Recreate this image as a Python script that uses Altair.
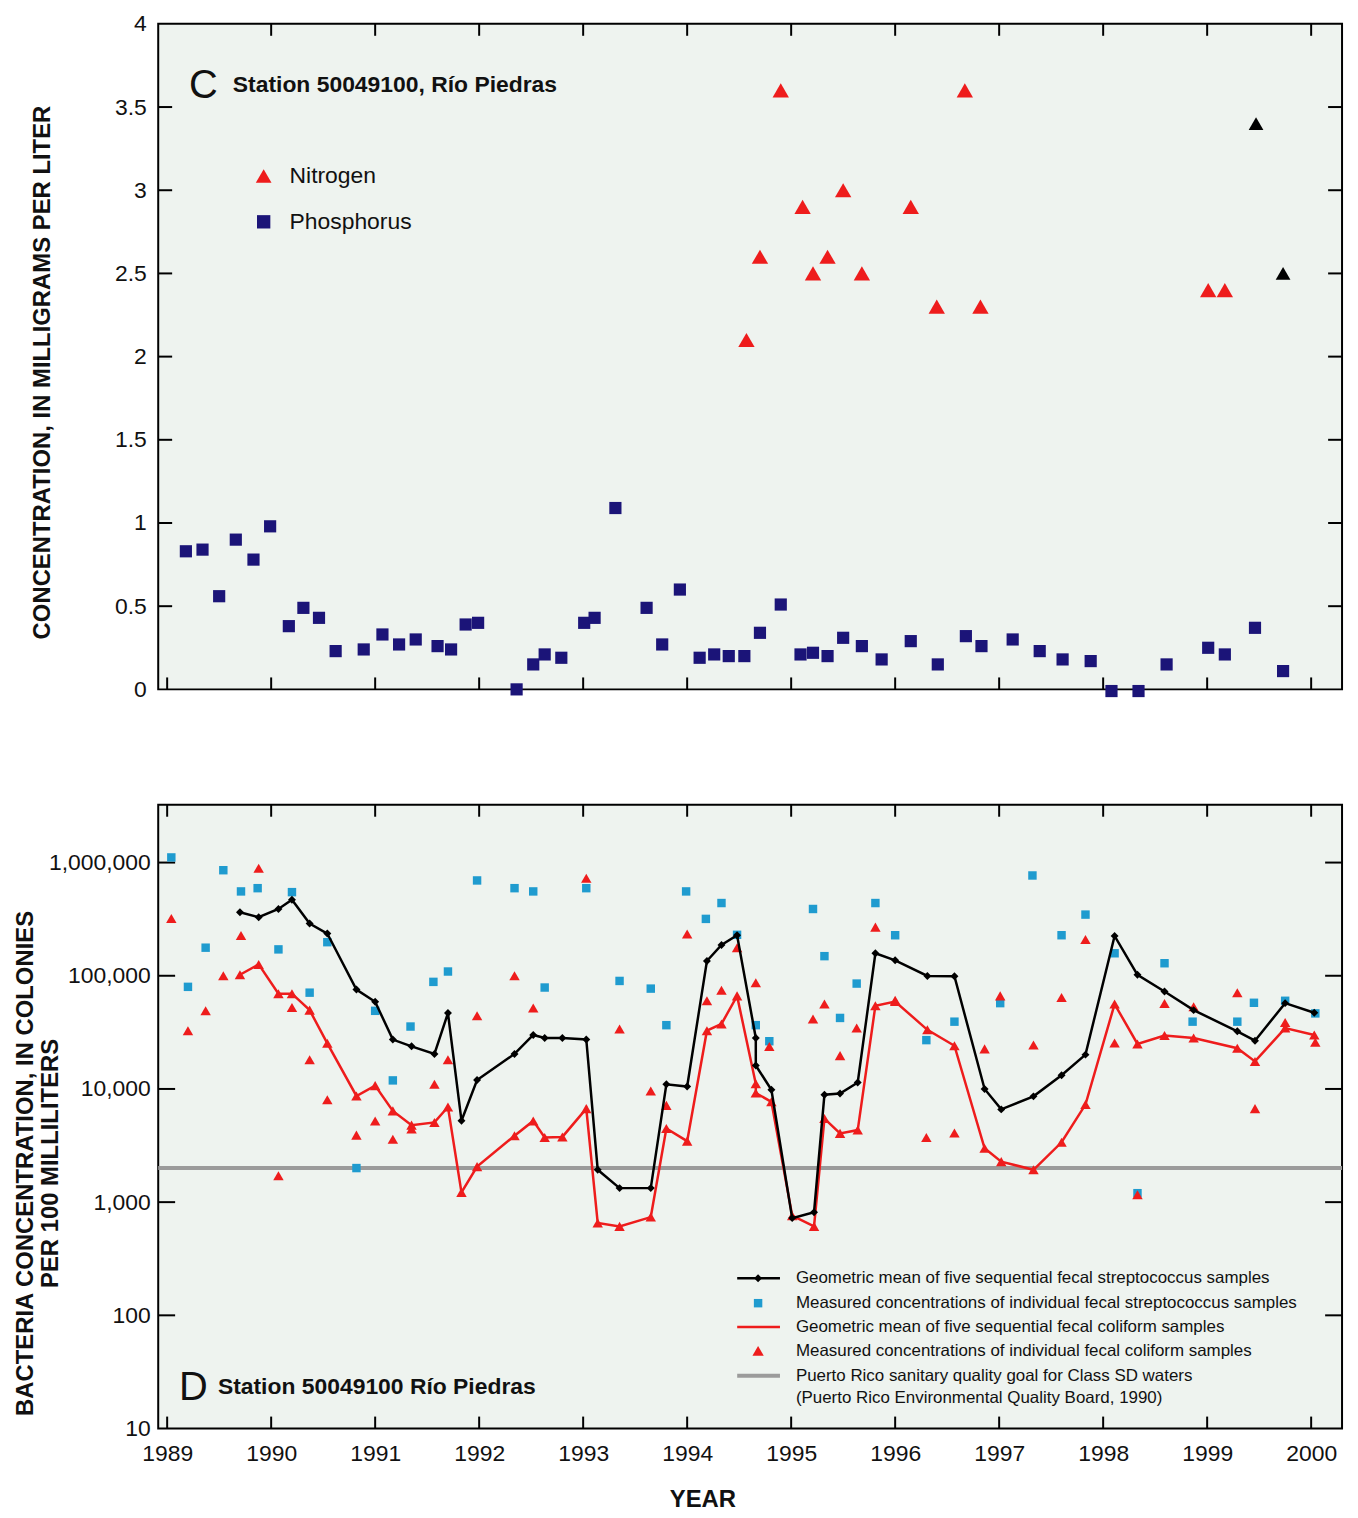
import altair as alt
import pandas as pd

# ---------------- Panel C: nutrients (mg/L) ----------------
P_YEAR = [1989.18, 1989.34, 1989.50, 1989.66, 1989.83, 1989.99, 1990.17, 1990.31, 1990.46, 1990.62,
          1990.89, 1991.07, 1991.23, 1991.39, 1991.60, 1991.73, 1991.87, 1991.99, 1992.36, 1992.52,
          1992.63, 1992.79, 1993.01, 1993.11, 1993.31, 1993.61, 1993.76, 1993.93, 1994.12, 1994.26,
          1994.40, 1994.55, 1994.70, 1994.90, 1995.09, 1995.21, 1995.35, 1995.50, 1995.68, 1995.87,
          1996.15, 1996.41, 1996.68, 1996.83, 1997.13, 1997.39, 1997.61, 1997.88, 1998.08, 1998.34,
          1998.61, 1999.01, 1999.17, 1999.46, 1999.73]
P_VAL = [0.83, 0.84, 0.56, 0.90, 0.78, 0.98, 0.38, 0.49, 0.43, 0.23,
         0.24, 0.33, 0.27, 0.30, 0.26, 0.24, 0.39, 0.40, 0.00, 0.15,
         0.21, 0.19, 0.40, 0.43, 1.09, 0.49, 0.27, 0.60, 0.19, 0.21,
         0.20, 0.20, 0.34, 0.51, 0.21, 0.22, 0.20, 0.31, 0.26, 0.18,
         0.29, 0.15, 0.32, 0.26, 0.30, 0.23, 0.18, 0.17, -0.01, -0.01,
         0.15, 0.25, 0.21, 0.37, 0.11]
N_YEAR = [1994.57, 1994.70, 1994.90, 1995.11, 1995.21, 1995.35, 1995.50, 1995.68, 1996.15, 1996.40,
          1996.67, 1996.82, 1999.01, 1999.17]
N_VAL = [2.1, 2.6, 3.6, 2.9, 2.5, 2.6, 3.0, 2.5, 2.9, 2.3, 3.6, 2.3, 2.4, 2.4]
NK_YEAR = [1999.47, 1999.73]
NK_VAL = [3.4, 2.5]

# ---------------- Panel D: bacteria (colonies / 100 mL) ----------------
GM_YEAR = [1989.70, 1989.88, 1990.07, 1990.20, 1990.37, 1990.54, 1990.82, 1991.00, 1991.17, 1991.35,
           1991.57, 1991.70, 1991.83, 1991.98, 1992.34, 1992.52, 1992.63, 1992.80, 1993.03, 1993.14,
           1993.35, 1993.65, 1993.80, 1994.00, 1994.19, 1994.33, 1994.48, 1994.66, 1994.66, 1994.81,
           1995.01, 1995.22, 1995.32, 1995.47, 1995.64, 1995.81, 1996.00, 1996.31, 1996.57, 1996.86,
           1997.02, 1997.33, 1997.60, 1997.83, 1998.11, 1998.33, 1998.59, 1998.87, 1999.29, 1999.46,
           1999.75, 2000.03]
STREP_GM = [364000, 329000, 389000, 470000, 289000, 236000, 75500, 58900, 27300, 23800,
            20400, 46800, 5240, 12000, 20400, 30000, 28200, 28200, 27400, 1930,
            1330, 1330, 11000, 10500, 135000, 187000, 228000, 28200, 16100, 9840,
            723, 815, 8900, 9100, 11400, 158000, 137000, 99600, 98900, 10000,
            6600, 8600, 13200, 20100, 225000, 102000, 72500, 49700, 32300, 26700,
            57300, 47100]
COLI_GM = [102000, 126000, 69500, 69500, 49700, 25300, 8670, 10700, 6400, 4790,
           5060, 6930, 1220, 2060, 3860, 5220, 3730, 3770, 6700, 655,
           611, 738, 4480, 3460, 32700, 37500, 66400, 11100, 9200, 7700,
           759, 611, 5470, 4050, 4330, 54400, 59200, 33300, 24100, 2990,
           2280, 1930, 3380, 7280, 56200, 25000, 29600, 28200, 22900, 17500,
           34500, 30000]
STREP_YEAR = [1989.04, 1989.20, 1989.37, 1989.54, 1989.71, 1989.87, 1990.07, 1990.20, 1990.37, 1990.54,
              1990.82, 1991.00, 1991.17, 1991.34, 1991.56, 1991.70, 1991.98, 1992.34, 1992.52, 1992.63,
              1993.03, 1993.35, 1993.65, 1993.80, 1993.99, 1994.18, 1994.33, 1994.48, 1994.66, 1994.79,
              1995.21, 1995.32, 1995.47, 1995.63, 1995.81, 1996.00, 1996.30, 1996.57, 1997.01, 1997.32,
              1997.60, 1997.83, 1998.11, 1998.33, 1998.59, 1998.86, 1999.29, 1999.45, 1999.75, 2000.04]
STREP_VAL = [1110000, 79800, 177000, 856000, 556000, 594000, 171000, 548000, 70900, 198000,
             2000, 49000, 11900, 35600, 88300, 109000, 695000, 594000, 556000, 78700,
             594000, 90000, 77000, 36600, 556000, 318000, 439000, 230000, 36600, 26400,
             389000, 149000, 42400, 85300, 439000, 228000, 27000, 39300, 57300, 769000,
             228000, 347000, 158000, 1200, 129000, 39300, 39300, 57700, 60100, 46500]
COLI_YEAR = [1989.04, 1989.20, 1989.37, 1989.54, 1989.71, 1989.88, 1990.07, 1990.20, 1990.37, 1990.54,
             1990.82, 1991.00, 1991.17, 1991.35, 1991.57, 1991.70, 1991.98, 1992.34, 1992.52, 1993.03,
             1993.35, 1993.65, 1993.80, 1994.00, 1994.19, 1994.33, 1994.48, 1994.66, 1994.79, 1995.21,
             1995.32, 1995.47, 1995.63, 1995.81, 1996.00, 1996.30, 1996.57, 1996.86, 1997.01, 1997.33,
             1997.60, 1997.83, 1998.11, 1998.33, 1998.59, 1998.87, 1999.29, 1999.46, 1999.75, 2000.04]
COLI_VAL = [320000, 32700, 49100, 100000, 227000, 891000, 1710, 52500, 18100, 8040,
            3910, 5220, 3590, 4420, 11000, 18100, 44300, 100000, 51800, 728000,
            33800, 9580, 7160, 234000, 60100, 74600, 177000, 86900, 23700, 41500,
            56200, 19700, 34500, 269000, 60800, 3730, 4090, 22600, 66400, 24500,
            64200, 209000, 25500, 1160, 56900, 53200, 70900, 6700, 38700, 25800]
GOAL = [2000]

YEARS = list(range(1989, 2001))
TOP_YTICKS = [0.5, 1, 1.5, 2, 2.5, 3, 3.5]
TOP_YLABELS = [0, 0.5, 1, 1.5, 2, 2.5, 3, 3.5, 4]
BOT_YTICKS = [100, 1000, 10000, 100000, 1000000]
BOT_YLABELS = [10, 100, 1000, 10000, 100000, 1000000]

# ---------------- styling ----------------
W, H1, H2 = 1190, 669, 627
BG = "#eef3ef"
RED = "#ee1c1c"
NAVY = "#1b1478"
CYAN = "#1f9bcf"
BLACK = "#000000"
GRAY = "#9b9b9b"
TXT = "#111111"
FONT = "Liberation Sans"

xs = alt.Scale(domain=[1988.914, 2000.297], nice=False, zero=False)
ys1 = alt.Scale(domain=[0, 4], nice=False, zero=False)
ys2 = alt.Scale(type="log", domain=[10, 3.24e6], nice=False)

# axes: the same explicit definition is given to every layer that uses the scale
ax1 = alt.Axis(values=TOP_YLABELS, format="~g", labelPadding=12,
               title="CONCENTRATION, IN MILLIGRAMS PER LITER",
               titleX=-116, titleY=350, titleBaseline="middle")
ax2 = alt.Axis(values=BOT_YLABELS, format=",d", labelPadding=8,
               title=["BACTERIA CONCENTRATION, IN COLONIES", "PER 100 MILLILITERS"],
               titleX=-133, titleY=360, titleBaseline="middle", titleLineHeight=25)
axx = alt.Axis(values=YEARS, format="d", labelPadding=14, title="YEAR",
               titleX=547, titleY=71, titleBaseline="middle")

one = pd.DataFrame({"k": [0]})


def X(field, axis):
    return alt.X(field, scale=xs, axis=axis)


def xticks(years, y0, y1, axis):
    return alt.Chart(pd.DataFrame({"year": years})).mark_rule(color=BLACK, strokeWidth=2).encode(
        x=X("year:Q", axis), y=alt.value(y0), y2=alt.value(y1))


def yticks(vals, scale, axis, x0, x1):
    return alt.Chart(pd.DataFrame({"v": vals})).mark_rule(color=BLACK, strokeWidth=2).encode(
        y=alt.Y("v:Q", scale=scale, axis=axis), x=alt.value(x0), x2=alt.value(x1))


def label(txt, x, y, size, weight="normal"):
    return alt.Chart(one).mark_text(align="left", baseline="middle", font=FONT, fontSize=size,
                                    fontWeight=weight, color=TXT).encode(
        x=alt.value(x), y=alt.value(y), text=alt.value(txt))


def sym(shape, color, size, x, y):
    return alt.Chart(one).mark_point(shape=shape, filled=True, size=size, color=color,
                                     opacity=1, strokeWidth=0).encode(x=alt.value(x), y=alt.value(y))


def seg(color, width, x0, x1, y):
    return alt.Chart(one).mark_rule(color=color, strokeWidth=width).encode(
        x=alt.value(x0), x2=alt.value(x1), y=alt.value(y))


# ---------------- top panel ----------------
Y1 = lambda f: alt.Y(f, scale=ys1, axis=ax1)

phos = alt.Chart(pd.DataFrame({"year": P_YEAR, "v": P_VAL})).mark_square(
    size=150, color=NAVY, opacity=1).encode(x=X("year:Q", None), y=Y1("v:Q"))
nitro = alt.Chart(pd.DataFrame({"year": N_YEAR, "v": N_VAL})).mark_point(
    shape="triangle-up", filled=True, size=270, color=RED, opacity=1).encode(x=X("year:Q", None), y=Y1("v:Q"))
nitro_k = alt.Chart(pd.DataFrame({"year": NK_YEAR, "v": NK_VAL})).mark_point(
    shape="triangle-up", filled=True, size=220, color=BLACK, opacity=1).encode(x=X("year:Q", None), y=Y1("v:Q"))

top = alt.layer(
    xticks(YEARS[1:], 0, 12, None),
    xticks(YEARS, H1, H1 - 12, None),
    yticks(TOP_YTICKS, ys1, ax1, 0, 14),
    yticks(TOP_YTICKS, ys1, ax1, W, W - 14),
    phos, nitro, nitro_k,
    label("C", 31, 63, 40),
    label("Station 50049100, Río Piedras", 75, 62, 23, "bold"),
    sym("triangle-up", RED, 250, 106, 153),
    label("Nitrogen", 132, 153, 23),
    sym("square", NAVY, 180, 106, 199),
    label("Phosphorus", 132, 199, 23),
).properties(width=W, height=H1)

# ---------------- bottom panel ----------------
Y2 = lambda f: alt.Y(f, scale=ys2, axis=ax2)
gm = pd.DataFrame({"year": GM_YEAR, "strep": STREP_GM, "coli": COLI_GM, "i": list(range(len(GM_YEAR)))})

goal = alt.Chart(pd.DataFrame({"v": GOAL})).mark_rule(color=GRAY, strokeWidth=4).encode(y=Y2("v:Q"))
strep_pts = alt.Chart(pd.DataFrame({"year": STREP_YEAR, "v": STREP_VAL})).mark_square(
    size=72, color=CYAN, opacity=1).encode(x=X("year:Q", axx), y=Y2("v:Q"))
coli_pts = alt.Chart(pd.DataFrame({"year": COLI_YEAR, "v": COLI_VAL})).mark_point(
    shape="triangle-up", filled=True, size=110, color=RED, opacity=1).encode(x=X("year:Q", axx), y=Y2("v:Q"))
coli_line = alt.Chart(gm).mark_line(color=RED, strokeWidth=2.5).encode(
    x=X("year:Q", axx), y=Y2("coli:Q"), order="i:Q")
coli_mark = alt.Chart(gm).mark_point(shape="triangle-up", filled=True, size=110, color=RED, opacity=1).encode(
    x=X("year:Q", axx), y=Y2("coli:Q"))
strep_line = alt.Chart(gm).mark_line(color=BLACK, strokeWidth=2.5).encode(
    x=X("year:Q", axx), y=Y2("strep:Q"), order="i:Q")
strep_mark = alt.Chart(gm).mark_point(shape="diamond", filled=True, size=64, color=BLACK, opacity=1).encode(
    x=X("year:Q", axx), y=Y2("strep:Q"))

LX0, LX1, LXM, LT = 582, 625, 603, 641
LEG = 17
bottom = alt.layer(
    goal,
    xticks(YEARS, 0, 12, axx),
    xticks(YEARS, H2, H2 - 12, axx),
    yticks(BOT_YTICKS, ys2, ax2, 0, 17),
    yticks(BOT_YTICKS, ys2, ax2, W, W - 17),
    strep_pts, coli_pts, coli_line, coli_mark, strep_line, strep_mark,
    label("D", 21, 586, 40),
    label("Station 50049100 Río Piedras", 60, 585, 23, "bold"),
    seg(BLACK, 2.5, LX0, LX1, 476), sym("diamond", BLACK, 64, LXM, 476),
    label("Geometric mean of five sequential fecal streptococcus samples", LT, 476, LEG),
    sym("square", CYAN, 72, LXM, 501),
    label("Measured concentrations of individual fecal streptococcus samples", LT, 501, LEG),
    seg(RED, 2.5, LX0, LX1, 525),
    label("Geometric mean of five sequential fecal coliform samples", LT, 525, LEG),
    sym("triangle-up", RED, 130, LXM, 549),
    label("Measured concentrations of individual fecal coliform samples", LT, 549, LEG),
    seg(GRAY, 4, LX0, LX1, 574),
    label("Puerto Rico sanitary quality goal for Class SD waters", LT, 574, LEG),
    label("(Puerto Rico Environmental Quality Board, 1990)", LT, 596, LEG),
).properties(width=W, height=H2)

chart = alt.vconcat(top, bottom, spacing=116, bounds="flush").properties(
    padding={"left": 5, "top": 0, "right": 5, "bottom": 0}
).configure_view(
    fill=BG, stroke=BLACK, strokeWidth=2
).configure_axis(
    labelFont=FONT, labelFontSize=23, labelColor=TXT,
    titleFont=FONT, titleFontSize=24, titleFontWeight="bold", titleColor=TXT,
    ticks=False, domain=False, grid=False, labelFlush=False, labelOverlap=False
)

chart.save("out.html", embed_options={"renderer": "svg", "actions": False})
